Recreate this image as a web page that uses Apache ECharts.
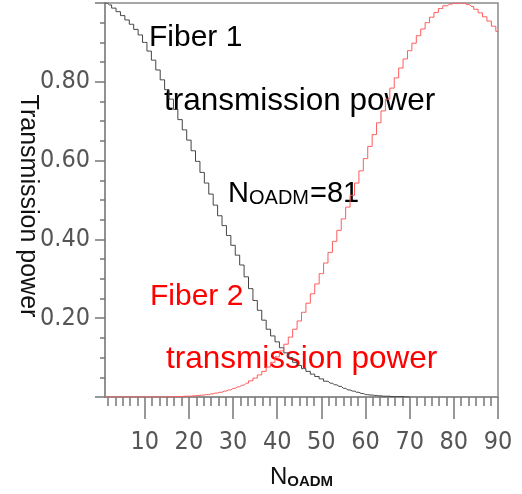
<!DOCTYPE html>
<html><head><meta charset="utf-8">
<script src="https://cdn.jsdelivr.net/npm/echarts@6/dist/echarts.min.js"></script>
<style>html,body{margin:0;padding:0;background:#fff}#c{width:522px;height:494px}</style>
</head><body><div id="c"></div>
<script>
// N_OADM values (x)
const nOadm = [1,2,3,4,5,6,7,8,9,10,11,12,13,14,15,16,17,18,19,20,21,22,23,24,25,26,27,28,29,30,
  31,32,33,34,35,36,37,38,39,40,41,42,43,44,45,46,47,48,49,50,51,52,53,54,55,56,57,58,59,60,
  61,62,63,64,65,66,67,68,69,70,71,72,73,74,75,76,77,78,79,80,81,82,83,84,85,86,87,88,89,90];
// Fiber 1 transmission power (N = 1..70)
const fiber1 = [1.000,0.995,0.987,0.978,0.968,0.957,0.946,0.933,0.919,0.900,
  0.878,0.855,0.830,0.805,0.780,0.756,0.730,0.704,0.678,0.652,
  0.625,0.598,0.570,0.543,0.515,0.487,0.460,0.435,0.410,0.385,
  0.360,0.335,0.305,0.275,0.245,0.220,0.195,0.172,0.155,0.140,
  0.125,0.112,0.100,0.088,0.080,0.072,0.065,0.058,0.052,0.046,
  0.040,0.035,0.031,0.027,0.022,0.018,0.015,0.012,0.009,0.006,
  0.005,0.004,0.003,0.002,0.002,0.001,0.001,0.001,0.000,0.000];
// Fiber 2 transmission power (N = 1..90)
const fiber2 = [0,0,0,0,0,0,0,0,0,0,
  0,0,0,0,0.000,0.001,0.001,0.001,0.002,0.002,
  0.003,0.004,0.005,0.006,0.008,0.010,0.012,0.015,0.018,0.022,
  0.026,0.030,0.035,0.041,0.048,0.056,0.065,0.076,0.088,0.102,
  0.117,0.134,0.152,0.172,0.193,0.215,0.238,0.262,0.287,0.313,
  0.340,0.367,0.395,0.423,0.452,0.482,0.512,0.543,0.574,0.605,
  0.636,0.666,0.696,0.726,0.756,0.784,0.810,0.835,0.858,0.879,
  0.898,0.917,0.934,0.950,0.964,0.976,0.986,0.993,0.997,0.999,
  1.000,0.999,0.996,0.991,0.984,0.975,0.965,0.954,0.941,0.928];
const xTickLabels = [10,20,30,40,50,60,70,80,90];
const yTickLabels = [0.2,0.4,0.6,0.8];

const xMinor = [];
for (let k = 1; k * 10 / 6 < 90; k++) { if (k % 6 !== 0) xMinor.push(k * 10 / 6); }

const tickFont = {fontFamily: '"Liberation Sans Narrow","DejaVu Sans Condensed",sans-serif', fontSize: 25, color: '#555'};
const textFont = '"Liberation Sans", Arial, sans-serif';
const chart = echarts.init(document.getElementById('c'), null, {renderer: 'canvas'});
chart.setOption({
  animation: false,
  backgroundColor: '#fff',
  grid: {left: 105, right: 24, top: 3, bottom: 96, show: true, borderColor: '#8a8a8a', borderWidth: 1.5},
  xAxis: [{
    type: 'value', min: 1, max: 90,
    axisLine: {lineStyle: {color: '#8a8a8a', width: 1.5}},
    axisTick: {customValues: xTickLabels, length: 22, lineStyle: {color: '#777', width: 1.5}},
    axisLabel: Object.assign({customValues: xTickLabels, margin: 33}, tickFont),
    splitLine: {show: false},
    name: '{n|N}{s|OADM}', nameLocation: 'middle', nameGap: 67, nameMoveOverlap: false,
    nameTextStyle: {rich: {
      n: {fontFamily: textFont, fontSize: 24, color: '#111', verticalAlign: 'bottom', lineHeight: 25},
      s: {fontFamily: textFont, fontSize: 15, color: '#111', fontWeight: 'bold', verticalAlign: 'bottom', lineHeight: 20}
    }}
  }, {
    type: 'value', min: 1, max: 90, position: 'bottom', gridIndex: 0,
    axisLine: {show: false},
    axisTick: {customValues: xMinor, length: 9, lineStyle: {color: '#777', width: 1.5}},
    axisLabel: {show: false}, splitLine: {show: false}
  }],
  yAxis: {
    type: 'value', min: 0, max: 1, interval: 0.2,
    axisLine: {show: true, lineStyle: {color: '#8a8a8a', width: 1.5}},
    axisTick: {show: true, length: 10, lineStyle: {color: '#777', width: 1.5}},
    minorTick: {show: true, splitNumber: 4, length: 5, lineStyle: {color: '#777', width: 1.5}},
    axisLabel: Object.assign({customValues: yTickLabels, margin: 15, formatter: v => v.toFixed(2)}, tickFont),
    splitLine: {show: false},
    name: 'Transmission power', nameLocation: 'middle', nameRotate: -90, nameGap: 65, nameMoveOverlap: false,
    nameTextStyle: {fontFamily: textFont, fontSize: 25, color: '#111', padding: [0, 0, 0, 12]}
  },
  series: [{
    name: 'Fiber 1', type: 'line', step: 'middle', symbol: 'none', xAxisIndex: 0,
    data: fiber1.map((v, i) => [nOadm[i], v]),
    lineStyle: {color: '#444', width: 1}
  }, {
    name: 'Fiber 2', type: 'line', step: 'middle', symbol: 'none', xAxisIndex: 0,
    data: fiber2.map((v, i) => [nOadm[i], v]),
    lineStyle: {color: '#ff5c5c', width: 1}
  }],
  graphic: [
    {type: 'text', x: 149, y: 38, style: {text: 'Fiber 1', font: '30px ' + textFont, fill: '#000', verticalAlign: 'middle'}},
    {type: 'text', x: 164, y: 101, style: {text: 'transmission power', font: '31.5px ' + textFont, fill: '#000', verticalAlign: 'middle'}},
    {type: 'text', x: 228, y: 194, style: {text: 'N', font: '29px ' + textFont, fill: '#000', verticalAlign: 'middle'}},
    {type: 'text', x: 249, y: 198, style: {text: 'OADM', font: '20px ' + textFont, fill: '#000', verticalAlign: 'middle'}},
    {type: 'text', x: 310, y: 194, style: {text: '=81', font: '29px ' + textFont, fill: '#000', verticalAlign: 'middle'}},
    {type: 'text', x: 150, y: 297, style: {text: 'Fiber 2', font: '30px ' + textFont, fill: '#ff0000', verticalAlign: 'middle'}},
    {type: 'text', x: 166, y: 359, style: {text: 'transmission power', font: '31.5px ' + textFont, fill: '#ff0000', verticalAlign: 'middle'}}
  ]
});
</script></body></html>
